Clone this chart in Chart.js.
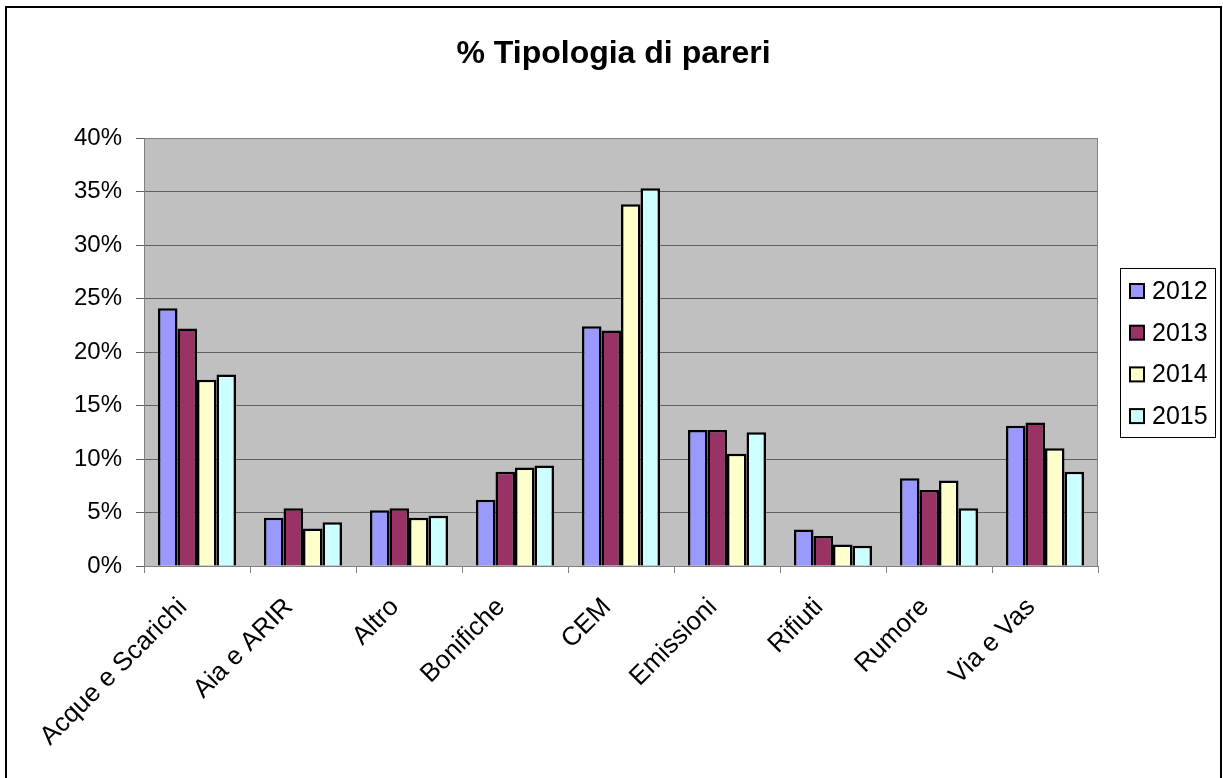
<!DOCTYPE html>
<html>
<head>
<meta charset="utf-8">
<script src="https://cdn.jsdelivr.net/npm/chart.js@4"></script>
<style>
html,body{margin:0;padding:0;background:#fff;}
#wrap{width:1223px;height:778px;position:relative;}
</style>
</head>
<body>
<div id="wrap"><canvas id="c" width="1223" height="778"></canvas></div>
<script>
const categories = ["Acque e Scarichi","Aia e ARIR","Altro","Bonifiche","CEM","Emissioni","Rifiuti","Rumore","Via e Vas"];
const seriesNames = ["2012","2013","2014","2015"];
const values2012 = [24.1, 4.5, 5.2, 6.2, 22.4, 12.7, 3.4, 8.2, 13.1];
const values2013 = [22.2, 5.4, 5.4, 8.8, 22.0, 12.7, 2.8, 7.1, 13.4];
const values2014 = [17.4, 3.5, 4.5, 9.2, 33.8, 10.5, 2.0, 8.0, 11.0];
const values2015 = [17.9, 4.1, 4.7, 9.4, 35.3, 12.5, 1.9, 5.4, 8.8];
const yTicks = [0,5,10,15,20,25,30,35,40];
const colors = ["#9999FF","#993366","#FFFFCC","#CCFFFF"];

const FONT = "Arial, 'Liberation Sans', sans-serif";

const bgPlugin = {
  id: 'bg',
  beforeDraw(chart){
    const {ctx, chartArea:a} = chart;
    ctx.save();
    ctx.fillStyle = '#fff';
    ctx.fillRect(0,0,chart.width,chart.height);
    ctx.fillStyle = '#C0C0C0';
    ctx.fillRect(a.left, a.top, a.right-a.left, a.bottom-a.top);
    ctx.restore();
  },
  afterDraw(chart){
    const {ctx, chartArea:a} = chart;
    ctx.save();
    ctx.strokeStyle = '#808080';
    ctx.lineWidth = 1;
    ctx.strokeRect(a.left+0.5, a.top+0.5, a.right-a.left-1, a.bottom-a.top);
    // outer border (left, top, right; bottom edge is cut off in the reference)
    ctx.strokeStyle = '#000';
    ctx.lineWidth = 2;
    ctx.beginPath();
    ctx.moveTo(6, 778);
    ctx.lineTo(6, 7);
    ctx.lineTo(1221, 7);
    ctx.lineTo(1221, 778);
    ctx.stroke();
    const lx = 1120, ly = 268, lw = 95, lh = 169;
    ctx.lineWidth = 1;
    ctx.strokeStyle = '#000';
    ctx.strokeRect(lx+0.5, ly+0.5, lw, lh);
    const ds = chart.data.datasets;
    ctx.font = '25px ' + FONT;
    ctx.textBaseline = 'middle';
    ctx.textAlign = 'left';
    ds.forEach((d,i)=>{
      const cy = 291 + i*41.7;
      ctx.fillStyle = d.backgroundColor;
      ctx.fillRect(1130, cy-7, 14, 14);
      ctx.lineWidth = 2;
      ctx.strokeStyle = '#000';
      ctx.strokeRect(1130, cy-7, 14, 14);
      ctx.fillStyle = '#000';
      ctx.fillText(d.label, 1152, cy+1);
    });
    ctx.restore();
  }
};

const datasetsValues = [values2012, values2013, values2014, values2015];

new Chart(document.getElementById('c'), {
  type: 'bar',
  data: {
    labels: categories,
    datasets: seriesNames.map((n,i)=>({
      label: n,
      data: datasetsValues[i],
      backgroundColor: colors[i],
      borderColor: '#000',
      borderWidth: 2.5,
      categoryPercentage: 0.736,
      barPercentage: 1.0
    }))
  },
  options: {
    responsive: false,
    animation: false,
    devicePixelRatio: 1,
    layout: { padding: { left: 10, right: 6, top: 21, bottom: 10 } },
    plugins: {
      legend: { display: false },
      tooltip: { enabled: false },
      title: {
        display: true,
        text: '% Tipologia di pareri',
        color: '#000',
        font: { family: FONT, size: 32, weight: 'bold', lineHeight: 1.2 },
        padding: { top: 14, bottom: 64.6 }
      }
    },
    scales: {
      x: {
        offset: true,
        grid: { display: true, drawOnChartArea: false, drawTicks: true, tickLength: 7, color: '#808080', offset: true },
        border: { display: true, color: '#808080', width: 1 },
        ticks: { color: '#000', font: { family: FONT, size: 26 }, minRotation: 45, maxRotation: 45, autoSkip: false, padding: 19, labelOffset: -14 },
        afterFit(scale){ scale.height = 202; }
      },
      y: {
        min: 0, max: 40,
        afterBuildTicks(scale){ scale.ticks = yTicks.map(v=>({value:v})); },
        grid: { display: true, color: '#606060', lineWidth: 1, tickLength: 8, drawTicks: true },
        border: { display: true, color: '#808080', width: 1 },
        ticks: { color: '#000', font: { family: FONT, size: 24 }, padding: 14, callback: v => v + '%' },
        afterFit(scale){ scale.width = 134; }
      },
      yRight: {
        position: 'right',
        min: 0, max: 40,
        grid: { display: false },
        border: { display: false },
        ticks: { display: false },
        afterFit(scale){ scale.width = 1223 - 6 - 1098; }
      }
    }
  },
  plugins: [bgPlugin]
});
</script>
</body>
</html>
